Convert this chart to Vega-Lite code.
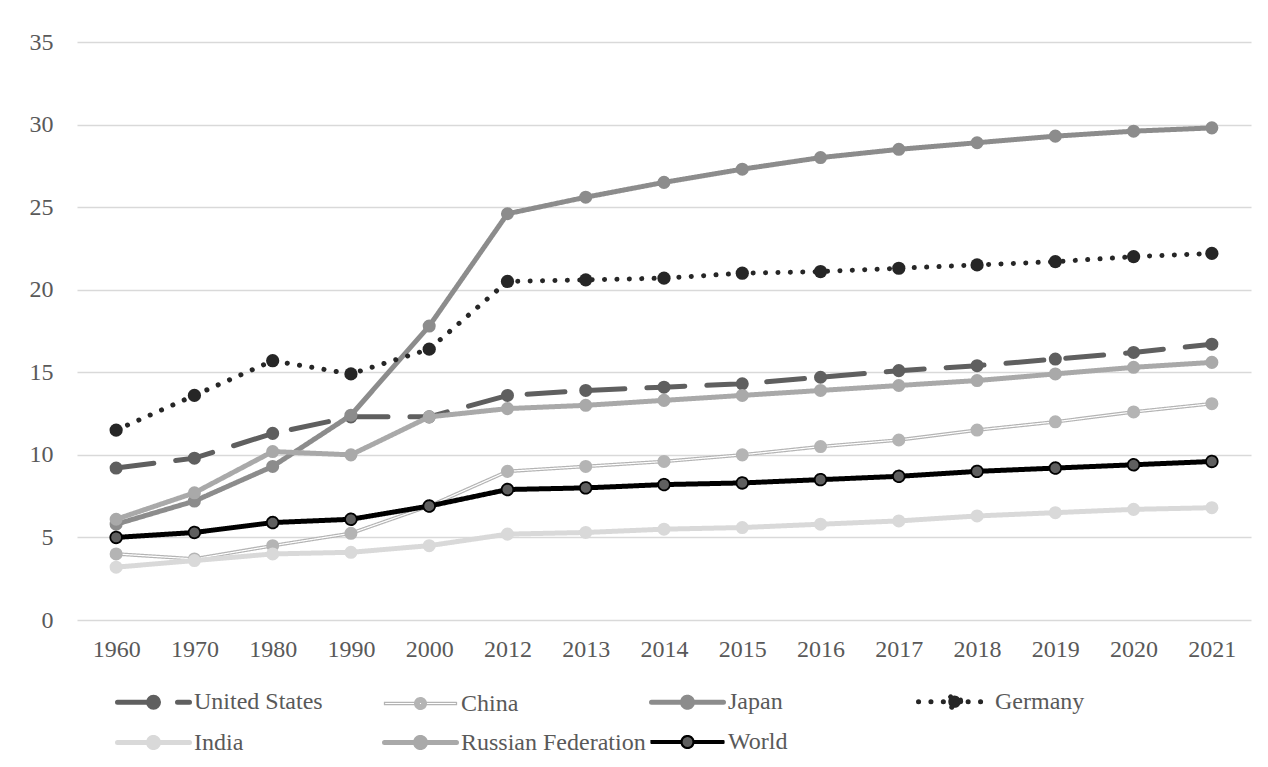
{
  "$schema": "https://vega.github.io/schema/vega-lite/v6.json",
  "width": 1174,
  "height": 578,
  "autosize": "none",
  "padding": {"left": 77, "top": 42, "right": 17, "bottom": 147},
  "background": "white",
  "config": {
    "view": {"stroke": null},
    "font": "Liberation Serif",
    "axis": {
      "labelFont": "Liberation Serif",
      "labelFontSize": 24,
      "labelColor": "#595959",
      "domain": false,
      "ticks": false,
      "title": null,
      "gridColor": "#d9d9d9",
      "gridWidth": 1.3
    },
    "legend": {
      "labelFont": "Liberation Serif",
      "labelFontSize": 24,
      "labelColor": "#595959",
      "title": null,
      "orient": "none",
      "legendX": 39,
      "legendY": 647,
      "direction": "horizontal",
      "columns": 4,
      "gridAlign": "all",
      "columnPadding": -5,
      "rowPadding": 9,
      "symbolSize": 400,
      "symbolOffset": 25,
      "labelOffset": 28,
      "labelLimit": 400,
      "symbolOpacity": 1
    }
  },
  "data": {
    "values": [
      {"year": "1960", "country": "United States", "value": 9.2},
      {"year": "1970", "country": "United States", "value": 9.8},
      {"year": "1980", "country": "United States", "value": 11.3},
      {"year": "1990", "country": "United States", "value": 12.3},
      {"year": "2000", "country": "United States", "value": 12.3},
      {"year": "2012", "country": "United States", "value": 13.6},
      {"year": "2013", "country": "United States", "value": 13.9},
      {"year": "2014", "country": "United States", "value": 14.1},
      {"year": "2015", "country": "United States", "value": 14.3},
      {"year": "2016", "country": "United States", "value": 14.7},
      {"year": "2017", "country": "United States", "value": 15.1},
      {"year": "2018", "country": "United States", "value": 15.4},
      {"year": "2019", "country": "United States", "value": 15.8},
      {"year": "2020", "country": "United States", "value": 16.2},
      {"year": "2021", "country": "United States", "value": 16.7},
      {"year": "1960", "country": "China", "value": 4.0},
      {"year": "1970", "country": "China", "value": 3.7},
      {"year": "1980", "country": "China", "value": 4.5},
      {"year": "1990", "country": "China", "value": 5.25},
      {"year": "2000", "country": "China", "value": 6.9},
      {"year": "2012", "country": "China", "value": 9.0},
      {"year": "2013", "country": "China", "value": 9.3},
      {"year": "2014", "country": "China", "value": 9.6},
      {"year": "2015", "country": "China", "value": 10.0},
      {"year": "2016", "country": "China", "value": 10.5},
      {"year": "2017", "country": "China", "value": 10.9},
      {"year": "2018", "country": "China", "value": 11.5},
      {"year": "2019", "country": "China", "value": 12.0},
      {"year": "2020", "country": "China", "value": 12.6},
      {"year": "2021", "country": "China", "value": 13.1},
      {"year": "1960", "country": "Japan", "value": 5.8},
      {"year": "1970", "country": "Japan", "value": 7.2},
      {"year": "1980", "country": "Japan", "value": 9.3},
      {"year": "1990", "country": "Japan", "value": 12.4},
      {"year": "2000", "country": "Japan", "value": 17.8},
      {"year": "2012", "country": "Japan", "value": 24.6},
      {"year": "2013", "country": "Japan", "value": 25.6},
      {"year": "2014", "country": "Japan", "value": 26.5},
      {"year": "2015", "country": "Japan", "value": 27.3},
      {"year": "2016", "country": "Japan", "value": 28.0},
      {"year": "2017", "country": "Japan", "value": 28.5},
      {"year": "2018", "country": "Japan", "value": 28.9},
      {"year": "2019", "country": "Japan", "value": 29.3},
      {"year": "2020", "country": "Japan", "value": 29.6},
      {"year": "2021", "country": "Japan", "value": 29.8},
      {"year": "1960", "country": "Germany", "value": 11.5},
      {"year": "1970", "country": "Germany", "value": 13.6},
      {"year": "1980", "country": "Germany", "value": 15.7},
      {"year": "1990", "country": "Germany", "value": 14.9},
      {"year": "2000", "country": "Germany", "value": 16.4},
      {"year": "2012", "country": "Germany", "value": 20.5},
      {"year": "2013", "country": "Germany", "value": 20.6},
      {"year": "2014", "country": "Germany", "value": 20.7},
      {"year": "2015", "country": "Germany", "value": 21.0},
      {"year": "2016", "country": "Germany", "value": 21.1},
      {"year": "2017", "country": "Germany", "value": 21.3},
      {"year": "2018", "country": "Germany", "value": 21.5},
      {"year": "2019", "country": "Germany", "value": 21.7},
      {"year": "2020", "country": "Germany", "value": 22.0},
      {"year": "2021", "country": "Germany", "value": 22.2},
      {"year": "1960", "country": "India", "value": 3.2},
      {"year": "1970", "country": "India", "value": 3.6},
      {"year": "1980", "country": "India", "value": 4.0},
      {"year": "1990", "country": "India", "value": 4.1},
      {"year": "2000", "country": "India", "value": 4.5},
      {"year": "2012", "country": "India", "value": 5.2},
      {"year": "2013", "country": "India", "value": 5.3},
      {"year": "2014", "country": "India", "value": 5.5},
      {"year": "2015", "country": "India", "value": 5.6},
      {"year": "2016", "country": "India", "value": 5.8},
      {"year": "2017", "country": "India", "value": 6.0},
      {"year": "2018", "country": "India", "value": 6.3},
      {"year": "2019", "country": "India", "value": 6.5},
      {"year": "2020", "country": "India", "value": 6.7},
      {"year": "2021", "country": "India", "value": 6.8},
      {"year": "1960", "country": "Russian Federation", "value": 6.1},
      {"year": "1970", "country": "Russian Federation", "value": 7.7},
      {"year": "1980", "country": "Russian Federation", "value": 10.2},
      {"year": "1990", "country": "Russian Federation", "value": 10.0},
      {"year": "2000", "country": "Russian Federation", "value": 12.3},
      {"year": "2012", "country": "Russian Federation", "value": 12.8},
      {"year": "2013", "country": "Russian Federation", "value": 13.0},
      {"year": "2014", "country": "Russian Federation", "value": 13.3},
      {"year": "2015", "country": "Russian Federation", "value": 13.6},
      {"year": "2016", "country": "Russian Federation", "value": 13.9},
      {"year": "2017", "country": "Russian Federation", "value": 14.2},
      {"year": "2018", "country": "Russian Federation", "value": 14.5},
      {"year": "2019", "country": "Russian Federation", "value": 14.9},
      {"year": "2020", "country": "Russian Federation", "value": 15.3},
      {"year": "2021", "country": "Russian Federation", "value": 15.6},
      {"year": "1960", "country": "World", "value": 5.0},
      {"year": "1970", "country": "World", "value": 5.3},
      {"year": "1980", "country": "World", "value": 5.9},
      {"year": "1990", "country": "World", "value": 6.1},
      {"year": "2000", "country": "World", "value": 6.9},
      {"year": "2012", "country": "World", "value": 7.9},
      {"year": "2013", "country": "World", "value": 8.0},
      {"year": "2014", "country": "World", "value": 8.2},
      {"year": "2015", "country": "World", "value": 8.3},
      {"year": "2016", "country": "World", "value": 8.5},
      {"year": "2017", "country": "World", "value": 8.7},
      {"year": "2018", "country": "World", "value": 9.0},
      {"year": "2019", "country": "World", "value": 9.2},
      {"year": "2020", "country": "World", "value": 9.4},
      {"year": "2021", "country": "World", "value": 9.6}
    ]
  },
  "encoding": {
    "x": {
      "field": "year",
      "type": "ordinal",
      "sort": null,
      "scale": {"type": "point", "padding": 0.5},
      "axis": {"labelAngle": 0, "labelPadding": 17, "grid": false}
    },
    "y": {
      "field": "value",
      "type": "quantitative",
      "scale": {"domain": [0, 35], "nice": false},
      "axis": {"values": [0, 5, 10, 15, 20, 25, 30, 35], "labelPadding": 24, "grid": true}
    },
    "stroke": {
      "field": "country",
      "type": "nominal",
      "scale": {
        "domain": ["United States", "China", "Japan", "Germany", "India", "Russian Federation", "World"],
        "range": ["#5f5f5f", "#b4b4b4", "#8c8c8c", "#262626", "#d9d9d9", "#a9a9a9", "#000000"]
      },
      "legend": {"encode": {"symbols": {"update": {"strokeCap": {"value": "round"}}}}}
    },
    "strokeDash": {
      "field": "country",
      "type": "nominal",
      "scale": {
        "type": "ordinal",
        "domain": ["United States", "China", "Japan", "Germany", "India", "Russian Federation", "World"],
        "range": [[38, 22], [1, 0], [1, 0], [0.1, 12.3], [1, 0], [1, 0], [1, 0]]
      }
    },
    "strokeWidth": {
      "field": "country",
      "type": "nominal",
      "scale": {
        "type": "ordinal",
        "domain": ["United States", "China", "Japan", "Germany", "India", "Russian Federation", "World"],
        "range": [5, 1.3, 5, 5, 5, 5, 2.2]
      }
    }
  },
  "layer": [
    {
      "transform": [{"filter": "datum.country === 'United States'"}],
      "mark": {"type": "line", "strokeCap": "round"}
    },
    {
      "transform": [{"filter": "datum.country === 'United States'"}],
      "mark": {"type": "point", "filled": true, "size": 170, "opacity": 1},
      "encoding": {
        "fill": {"field": "country", "type": "nominal", "scale": {"domain": ["United States", "China", "Japan", "Germany", "India", "Russian Federation", "World"], "range": ["#5f5f5f", "#ffffff", "#8c8c8c", "#262626", "#d9d9d9", "#a9a9a9", "#5f5f5f"]}},
        "strokeWidth": {"value": 0}
      }
    },
    {
      "transform": [{"filter": "datum.country === 'China'"}],
      "mark": {"type": "line"},
      "encoding": {"strokeWidth": {"value": 3.6}}
    },
    {
      "transform": [{"filter": "datum.country === 'China'"}],
      "mark": {"type": "line"},
      "encoding": {"stroke": {"value": "#ffffff"}, "strokeWidth": {"value": 1.2}}
    },
    {
      "transform": [{"filter": "datum.country === 'China'"}],
      "mark": {"type": "point", "filled": true, "size": 170, "opacity": 1},
      "encoding": {"fill": {"value": "#b4b4b4"}, "strokeWidth": {"value": 0}}
    },
    {
      "transform": [{"filter": "datum.country === 'Japan'"}],
      "mark": {"type": "line"}
    },
    {
      "transform": [{"filter": "datum.country === 'Japan'"}],
      "mark": {"type": "point", "filled": true, "size": 170, "opacity": 1},
      "encoding": {
        "fill": {"field": "country", "type": "nominal"},
        "strokeWidth": {"value": 0}
      }
    },
    {
      "transform": [{"filter": "datum.country === 'Germany'"}],
      "mark": {"type": "line", "strokeCap": "round"}
    },
    {
      "transform": [{"filter": "datum.country === 'Germany'"}],
      "mark": {"type": "point", "filled": true, "size": 175, "opacity": 1},
      "encoding": {
        "fill": {"field": "country", "type": "nominal"},
        "strokeWidth": {"value": 0}
      }
    },
    {
      "transform": [{"filter": "datum.country === 'India'"}],
      "mark": {"type": "line"}
    },
    {
      "transform": [{"filter": "datum.country === 'India'"}],
      "mark": {"type": "point", "filled": true, "size": 170, "opacity": 1},
      "encoding": {
        "fill": {"field": "country", "type": "nominal"},
        "strokeWidth": {"value": 0}
      }
    },
    {
      "transform": [{"filter": "datum.country === 'Russian Federation'"}],
      "mark": {"type": "line"}
    },
    {
      "transform": [{"filter": "datum.country === 'Russian Federation'"}],
      "mark": {"type": "point", "filled": true, "size": 170, "opacity": 1},
      "encoding": {
        "fill": {"field": "country", "type": "nominal"},
        "strokeWidth": {"value": 0}
      }
    },
    {
      "transform": [{"filter": "datum.country === 'World'"}],
      "mark": {"type": "line"},
      "encoding": {"strokeWidth": {"value": 5}}
    },
    {
      "transform": [{"filter": "datum.country === 'World'"}],
      "mark": {"type": "point", "filled": true, "size": 135, "opacity": 1},
      "encoding": {
        "fill": {"field": "country", "type": "nominal"},
        "stroke": {"value": "#000000"},
        "strokeWidth": {"value": 1.8}
      }
    },
    {
      "transform": [{"filter": "false"}],
      "mark": {"type": "point", "opacity": 1},
      "encoding": {
        "shape": {
          "field": "country",
          "type": "nominal",
          "scale": {
            "domain": ["United States", "China", "Japan", "Germany", "India", "Russian Federation", "World"],
            "range": [
              "M-3.6,0H3.6M0.5,0A0.5,0.5,0,1,1,-0.5,0A0.5,0.5,0,1,1,0.5,0Z",
              "M-3.6,-0.12H3.6V0.12H-3.6Z M0.585,0A0.585,0.585,0,1,1,-0.585,0A0.585,0.585,0,1,1,0.585,0Z M0.47,0A0.47,0.47,0,1,1,-0.47,0A0.47,0.47,0,1,1,0.47,0Z M0.355,0A0.355,0.355,0,1,1,-0.355,0A0.355,0.355,0,1,1,0.355,0Z M0.24,0A0.24,0.24,0,1,1,-0.24,0A0.24,0.24,0,1,1,0.24,0Z M0.125,0A0.125,0.125,0,1,1,-0.125,0A0.125,0.125,0,1,1,0.125,0Z",
              "M-3.6,0H3.6M0.5,0A0.5,0.5,0,1,1,-0.5,0A0.5,0.5,0,1,1,0.5,0Z",
              "M-3.6,0H3.6M0.62,0A0.62,0.62,0,1,1,-0.62,0A0.62,0.62,0,1,1,0.62,0Z",
              "M-3.6,0H3.6M0.5,0A0.5,0.5,0,1,1,-0.5,0A0.5,0.5,0,1,1,0.5,0Z",
              "M-3.6,0H3.6M0.5,0A0.5,0.5,0,1,1,-0.5,0A0.5,0.5,0,1,1,0.5,0Z",
              "M-3.6,-0.1H-0.6V0.1H-3.6Z M0.6,-0.1H3.6V0.1H0.6Z M0.6,0A0.6,0.6,0,1,1,-0.6,0A0.6,0.6,0,1,1,0.6,0Z"
            ]
          }
        },
        "fill": {"field": "country", "type": "nominal"}
      }
    }
  ]
}
